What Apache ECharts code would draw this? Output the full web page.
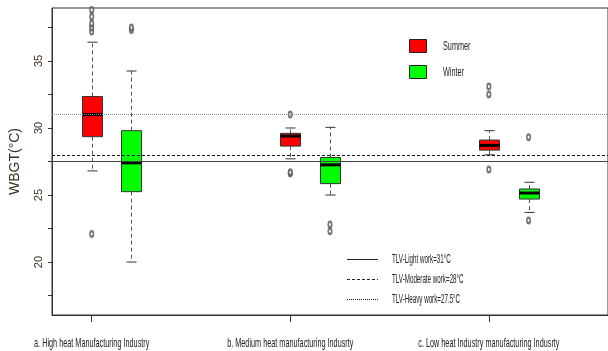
<!DOCTYPE html>
<html lang="en">
<head>
<meta charset="UTF-8">
<title>WBGT by industry and season</title>
<script src="https://cdn.jsdelivr.net/npm/echarts@6/dist/echarts.min.js"></script>
<style>
  html, body { margin: 0; padding: 0; background: #fff; }
  #container { width: 608px; height: 351px; }
</style>
</head>
<body>
<div id="container"></div>
<script type="text/javascript">
// industry groups (x axis)
var categories = [
    'a. High heat Manufacturing Industry',
    'b. Medium heat manufacturing Indusrty',
    'c. Low heat Industry manufacturing Indusrty'
];
var seasons = ['Summer', 'Winter'];
// box stats per group: [min whisker, Q1, median, Q3, max whisker]
var summerBox = [
    [26.8, 29.35, 31.0, 32.35, 36.4],
    [27.7, 28.65, 29.4, 29.6, 30.0],
    [28.0, 28.35, 28.7, 29.1, 29.8]
];
var winterBox = [
    [20.0, 25.25, 27.4, 29.8, 34.25],
    [25.0, 25.85, 27.25, 27.8, 30.05],
    [23.7, 24.7, 25.15, 25.45, 25.95]
];
var summerOutliers = [
    [22.1, 37.2, 37.5, 37.8, 38.3, 38.8],
    [26.6, 26.7, 31.0],
    [26.9, 32.5, 33.1]
];
var winterOutliers = [
    [37.3, 37.5],
    [22.3, 22.8],
    [23.1, 29.3]
];
// reference lines as drawn in the plot
var tlvValues = [31, 28, 27.5];
// legend text for the reference lines (solid, dashed, dotted)
var tlvNames = ['TLV-Light work=31°C', 'TLV-Moderate work=28°C', 'TLV-Heavy work=27.5°C'];
var yTickLabels = [20, 25, 30, 35];
var yMinorTicks = [17.5, 20, 22.5, 25, 27.5, 30, 32.5, 35, 37.5];

var FONT = '"Liberation Sans", Arial, sans-serif';
var NARROW = 0.56;           // the original text is squeezed sideways
var groupPos = [1, 6, 11];   // R style box positions: summer at pos, winter at pos+1
var seasonColors = ['#ff0000', '#00ff00'];

var dom = document.getElementById('container');
var myChart = echarts.init(dom, null, {renderer: 'canvas'});

function boxData(stats, offset) {
    return stats.map(function (s, i) {
        return [groupPos[i] + offset].concat(s);
    });
}
function outlierData(list, offset) {
    var out = [];
    list.forEach(function (vals, i) {
        vals.forEach(function (v) { out.push([groupPos[i] + offset, v]); });
    });
    return out;
}

function renderBox(color) {
    return function (params, api) {
        var x = api.value(0);
        var p = [];
        for (var k = 1; k <= 5; k++) p.push(api.coord([x, api.value(k)]));
        var cx = Math.round(p[0][0]) + 0.5;
        var hw = 10, sw = 5;
        var dash = {stroke: '#555', lineWidth: 1, lineDash: [4, 3]};
        var solid = {stroke: '#333', lineWidth: 1};
        return {
            type: 'group',
            children: [
                {type: 'line', shape: {x1: cx, y1: p[3][1], x2: cx, y2: p[4][1]}, style: dash},
                {type: 'line', shape: {x1: cx, y1: p[1][1], x2: cx, y2: p[0][1]}, style: dash},
                {type: 'line', shape: {x1: cx - sw, y1: p[4][1], x2: cx + sw, y2: p[4][1]}, style: solid},
                {type: 'line', shape: {x1: cx - sw, y1: p[0][1], x2: cx + sw, y2: p[0][1]}, style: solid},
                {type: 'rect', shape: {x: cx - hw, y: p[3][1], width: hw * 2, height: p[1][1] - p[3][1]},
                    style: {fill: color, stroke: '#333', lineWidth: 1}},
                {type: 'line', shape: {x1: cx - hw, y1: p[2][1], x2: cx + hw, y2: p[2][1]},
                    style: {stroke: '#000', lineWidth: 3}}
            ]
        };
    };
}

var tlvStyles = [
    {color: '#888', width: 1.2, type: [1, 1]},
    {color: '#111', width: 1.2, type: [3, 2]},
    {color: '#444', width: 1, type: 'solid'}
];

var option = {
    animation: false,
    textStyle: {fontFamily: FONT},
    grid: {left: 52, top: 8, right: -1, bottom: 36, show: true, borderColor: '#333', borderWidth: 1},
    xAxis: {
        type: 'value', min: 0, max: 14,
        splitLine: {show: false},
        axisLine: {show: true, lineStyle: {color: '#333'}},
        axisTick: {show: true, customValues: groupPos, length: 7, lineStyle: {color: '#333'}},
        axisLabel: {show: false}
    },
    yAxis: {
        type: 'value', min: 16.05, max: 38.95,
        name: 'WBGT(°C)', nameLocation: 'middle', nameGap: 30,
        nameTextStyle: {fontFamily: FONT, fontSize: 14, color: '#3d3020'},
        splitLine: {show: false},
        axisLine: {show: true, lineStyle: {color: '#333'}},
        axisTick: {show: true, customValues: yMinorTicks, length: 4, lineStyle: {color: '#333'}},
        axisLabel: {customValues: yTickLabels, rotate: 90, margin: 8, fontSize: 11, color: '#3d3020', fontFamily: FONT}
    },
    series: [{
        name: seasons[0], type: 'custom', renderItem: renderBox(seasonColors[0]),
        itemStyle: {color: seasonColors[0]},
        encode: {x: 0, y: [1, 2, 3, 4, 5]},
        data: boxData(summerBox, 0),
        markLine: {
            silent: true, symbol: 'none', label: {show: false},
            data: tlvValues.map(function (v, i) {
                return {yAxis: v, lineStyle: tlvStyles[i]};
            })
        }
    }, {
        name: seasons[1], type: 'custom', renderItem: renderBox(seasonColors[1]),
        itemStyle: {color: seasonColors[1]},
        encode: {x: 0, y: [1, 2, 3, 4, 5]},
        data: boxData(winterBox, 1)
    }, {
        name: 'summer outliers', type: 'scatter', symbol: 'emptyCircle', symbolSize: [3.5, 5.5],
        itemStyle: {color: '#555', borderWidth: 0.9},
        data: outlierData(summerOutliers, 0)
    }, {
        name: 'winter outliers', type: 'scatter', symbol: 'emptyCircle', symbolSize: [3.5, 5.5],
        itemStyle: {color: '#555', borderWidth: 0.9},
        data: outlierData(winterOutliers, 1)
    }]
};

myChart.setOption(option);

// category labels under the ticks, squeezed like the original
var graphics = [];
groupPos.forEach(function (p, i) {
    var px = myChart.convertToPixel({xAxisIndex: 0}, p);
    graphics.push({
        type: 'text', x: px, y: 343, scaleX: NARROW,
        style: {text: categories[i], x: 0, y: 0, align: 'center', verticalAlign: 'middle',
            font: '13px ' + FONT, fill: '#222'}
    });
});
// season legend
seasons.forEach(function (s, i) {
    var y = 39 + i * 26;
    graphics.push({
        type: 'rect', shape: {x: 409.5, y: y + 0.5, width: 17, height: 13},
        style: {fill: seasonColors[i], stroke: '#222', lineWidth: 1}
    });
    graphics.push({
        type: 'text', x: 443, y: y + 7, scaleX: NARROW,
        style: {text: s, x: 0, y: 0, align: 'left', verticalAlign: 'middle',
            font: '13px ' + FONT, fill: '#222'}
    });
});
// legend for the TLV lines (solid, dashed, dotted)
var legendLines = [[], [3, 2], [1, 1]];
tlvNames.forEach(function (n, i) {
    var y = 259 + i * 20 + 0.5;
    graphics.push({
        type: 'line', shape: {x1: 347, y1: y, x2: 378, y2: y},
        style: {stroke: '#222', lineWidth: 1, lineDash: legendLines[i].length ? legendLines[i] : null}
    });
    graphics.push({
        type: 'text', x: 392, y: y, scaleX: 0.52,
        style: {text: n, x: 0, y: 0, align: 'left', verticalAlign: 'middle',
            font: '12px ' + FONT, fill: '#222'}
    });
});
myChart.setOption({graphic: graphics});
</script>
</body>
</html>
